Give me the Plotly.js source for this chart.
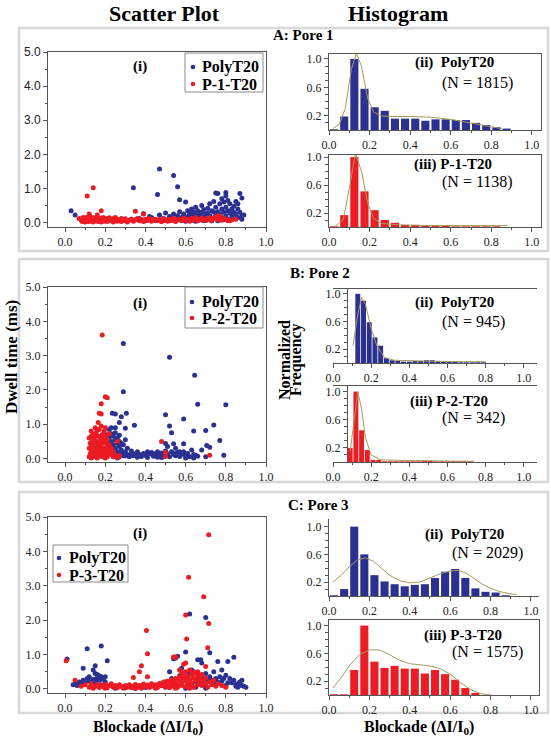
<!DOCTYPE html>
<html><head><meta charset="utf-8">
<script src="https://cdn.plot.ly/plotly-3.0.1.min.js"></script>
<style>html,body{margin:0;padding:0;background:#fff}</style>
</head><body><div id="chart" style="width:551px;height:737px"></div>
<script>
// ---------- DATA ----------
// Scatter A (Pore 1)
var aPolyX=[0.03,0.05,0.09,0.14,0.19,0.24,0.29,0.33,0.34,0.37,0.39,0.41,0.43,0.44,0.46,0.47,0.47,0.49,0.50,0.51,0.52,0.53,0.54,0.54,0.55,0.56,0.56,0.57,0.57,0.58,0.59,0.60,0.60,0.61,0.61,0.62,0.62,0.63,0.63,0.64,0.64,0.65,0.65,0.66,0.66,0.67,0.67,0.68,0.68,0.69,0.69,0.70,0.70,0.71,0.71,0.72,0.72,0.73,0.73,0.74,0.74,0.75,0.75,0.75,0.76,0.76,0.76,0.77,0.77,0.78,0.78,0.78,0.79,0.79,0.80,0.80,0.80,0.80,0.81,0.81,0.81,0.82,0.82,0.83,0.83,0.84,0.84,0.85,0.85,0.86,0.86,0.87,0.87,0.88,0.88,0.89,0.85,0.79,0.73,0.69,0.40,0.42,0.45,0.48,0.50,0.52,0.55,0.58,0.60,0.63,0.65,0.67,0.70,0.72,0.74,0.77,0.80,0.83,0.86,0.88];
var aPolyY=[0.35,0.22,0.12,0.08,0.10,0.06,0.08,0.10,1.02,0.12,0.26,0.08,0.15,0.10,0.82,1.57,0.22,0.12,0.28,0.08,0.18,0.12,1.38,0.25,0.10,1.05,0.20,0.67,0.32,0.15,0.25,0.60,0.10,0.35,0.18,0.28,0.08,0.40,0.20,0.12,0.30,0.45,0.22,0.15,0.35,0.25,0.08,0.30,0.50,0.18,0.38,0.25,0.12,0.42,0.28,0.55,0.20,0.35,0.10,0.30,0.62,0.87,0.45,0.18,0.85,0.32,0.05,0.55,0.25,0.70,0.40,0.15,0.60,0.30,0.88,0.78,0.45,0.20,0.65,0.35,0.10,0.55,0.28,0.40,0.18,0.48,0.30,0.62,0.25,0.40,0.55,0.85,0.30,0.72,0.20,0.22,0.12,0.08,0.05,0.05,0.05,0.18,0.06,0.04,0.06,0.05,0.05,0.06,0.04,0.06,0.04,0.14,0.06,0.08,0.14,0.10,0.10,0.08,0.15,0.10];
var aP1X=[0.11,0.14,0.18,0.35,0.39,0.12,0.16,0.09,0.07,0.82,0.08,0.085,0.09,0.095,0.10,0.10,0.105,0.11,0.115,0.12,0.12,0.125,0.13,0.135,0.14,0.14,0.145,0.15,0.155,0.16,0.16,0.165,0.17,0.175,0.18,0.18,0.185,0.19,0.195,0.20,0.20,0.21,0.21,0.22,0.22,0.23,0.23,0.24,0.24,0.25,0.25,0.26,0.26,0.27,0.28,0.28,0.29,0.30,0.30,0.31,0.32,0.33,0.34,0.35,0.36,0.37,0.38,0.39,0.40,0.41,0.42,0.43,0.44,0.45,0.46,0.47,0.48,0.49,0.50,0.51,0.52,0.53,0.54,0.55,0.56,0.57,0.58,0.59,0.60,0.61,0.62,0.63,0.64,0.65,0.66,0.67,0.68,0.69,0.70,0.71,0.72,0.73,0.74,0.75,0.76,0.77,0.78,0.79,0.80,0.81,0.83,0.85];
var aP1Y=[0.78,1.02,0.35,0.33,0.25,0.25,0.22,0.15,0.12,0.05,0.08,0.03,0.12,0.05,0.02,0.10,0.15,0.06,0.03,0.12,0.07,0.18,0.04,0.10,0.14,0.02,0.08,0.12,0.05,0.16,0.09,0.03,0.11,0.06,0.13,0.02,0.08,0.15,0.04,0.10,0.06,0.12,0.03,0.08,0.14,0.05,0.10,0.02,0.12,0.07,0.15,0.04,0.10,0.06,0.12,0.03,0.08,0.05,0.11,0.02,0.07,0.10,0.04,0.08,0.12,0.05,0.09,0.03,0.10,0.06,0.12,0.04,0.08,0.10,0.05,0.09,0.03,0.11,0.07,0.04,0.10,0.06,0.12,0.03,0.08,0.10,0.05,0.13,0.07,0.10,0.04,0.12,0.08,0.15,0.05,0.10,0.13,0.06,0.11,0.08,0.14,0.05,0.12,0.18,0.09,0.20,0.07,0.12,0.10,0.05,0.08,0.10];
// Scatter B (Pore 2)
var bPolyX=[0.20,0.21,0.21,0.22,0.22,0.23,0.23,0.23,0.24,0.24,0.24,0.25,0.25,0.25,0.26,0.26,0.26,0.27,0.27,0.27,0.28,0.28,0.29,0.29,0.30,0.30,0.31,0.31,0.32,0.33,0.22,0.25,0.27,0.20,0.19,0.21,0.24,0.26,0.28,0.30,
0.33,0.34,0.35,0.36,0.37,0.38,0.39,0.40,0.41,0.42,0.43,0.44,0.45,0.46,0.46,0.47,0.48,0.49,0.50,0.50,0.51,0.52,0.53,0.54,0.55,0.56,0.57,0.58,0.59,0.60,0.61,0.62,0.64,0.66,0.36,0.41,0.44,0.48,0.55,0.60,
0.29,0.52,0.29,0.645,0.66,0.80,0.59,0.50,0.52,0.64,0.70,0.74,0.77,0.705,0.72,0.235,0.25,0.305,0.28,0.345,0.30,0.27,0.23,0.50,0.54,0.59,0.53,0.49,0.63,0.65,0.79,0.70,0.51,0.55,0.57,0.64,0.68];
var bPolyY=[0.55,0.45,0.30,0.62,0.15,0.50,0.72,0.25,0.40,0.65,0.10,0.55,0.30,0.75,0.45,0.20,0.60,0.35,0.05,0.50,0.25,0.15,0.40,0.08,0.20,0.55,0.12,0.30,0.05,0.15,0.85,0.90,0.68,0.70,0.62,0.20,0.05,0.02,0.45,0.08,
0.22,0.08,0.14,0.04,0.12,0.06,0.15,0.09,0.03,0.13,0.18,0.07,0.12,0.20,0.04,0.10,0.16,0.06,0.22,0.10,0.14,0.05,0.20,0.12,0.08,0.18,0.06,0.12,0.20,0.08,0.15,0.05,0.12,0.07,0.20,0.20,0.15,0.03,0.15,0.02,
3.35,2.95,1.95,2.43,1.58,1.57,1.15,1.28,0.95,0.80,0.82,0.98,0.53,0.38,0.33,1.32,1.30,1.32,1.22,0.97,0.88,1.05,0.90,0.44,0.43,0.43,0.75,0.05,0.25,0.10,0.10,0.05,0.35,0.30,0.20,0.02,0.25];
var bP2X=[0.185,0.20,0.21,0.18,0.17,0.18,0.165,0.48,0.50,0.50,0.72,0.26,
0.12,0.12,0.12,0.125,0.125,0.13,0.13,0.13,0.135,0.135,0.14,0.14,0.14,0.145,0.145,0.15,0.15,0.15,0.155,0.155,0.16,0.16,0.16,0.165,0.165,0.17,0.17,0.17,0.175,0.175,0.18,0.18,0.18,0.185,0.185,0.19,0.19,0.195,0.195,0.20,0.20,0.20,0.20,0.205,0.21,0.21,0.215,0.22,0.22,0.225,0.23,0.24,0.24,0.25,0.26,0.27,0.13,0.14,0.15,0.16,0.17,0.18,0.19,0.20,0.21,0.16,0.14,0.13,0.18,0.19,0.22];
var bP2Y=[3.60,1.80,1.77,1.60,1.32,1.30,1.05,0.50,0.18,0.06,0.10,0.50,
0.05,0.30,0.60,0.15,0.45,0.80,0.02,0.25,0.50,0.10,0.70,0.35,0.05,0.20,0.60,0.90,0.40,0.12,0.28,0.75,0.50,0.02,0.18,0.65,0.35,0.85,0.08,0.45,0.25,0.60,0.95,0.15,0.40,0.70,0.05,0.30,0.55,0.20,0.80,0.10,0.45,0.65,0.02,0.30,0.55,0.05,0.20,0.40,0.72,0.12,0.30,0.05,0.20,0.10,0.03,0.08,0.40,0.55,0.65,0.85,0.20,0.52,0.10,0.90,0.35,0.30,0.15,0.65,0.28,0.68,0.18];
// Scatter C (Pore 3)
var cPolyX=[0.01,0.11,0.18,0.09,0.15,0.14,0.21,0.12,0.16,0.17,0.62,0.70,0.72,0.60,0.55,0.56,0.54,0.76,0.81,0.84,0.66,0.675,0.68,0.62,0.63,0.64,0.58,0.59,0.60,0.70,0.72,0.74,0.75,0.77,0.78,0.80,0.82,0.83,0.85,0.87,0.88,0.89,0.90,0.86,0.80,0.78,0.73,0.69,0.67,0.65,0.52,0.50,0.47,0.53,
0.04,0.05,0.06,0.07,0.08,0.09,0.10,0.11,0.12,0.13,0.14,0.15,0.16,0.17,0.18,0.19,0.20,0.20,0.18,0.15,
0.25,0.30,0.35,0.40,0.45,0.50,0.55,0.60,0.65,0.70,0.75,0.80,0.85,0.88,0.60,0.70,
0.57,0.61,0.63,0.66,0.69,0.71,0.74,0.76,0.79,0.81,0.84,0.86];
var cPolyY=[0.87,1.17,1.25,0.60,0.67,0.55,0.82,0.35,0.42,0.38,2.18,2.08,1.05,1.07,0.90,0.95,0.88,0.80,0.80,0.92,0.85,0.85,0.75,0.45,0.55,0.50,0.60,0.45,0.35,0.45,0.35,0.50,0.30,0.35,0.22,0.40,0.30,0.18,0.12,0.20,0.25,0.08,0.05,0.05,0.10,0.55,0.25,0.30,0.40,0.20,0.50,0.20,0.15,0.30,
0.12,0.15,0.10,0.20,0.14,0.25,0.18,0.30,0.22,0.15,0.28,0.20,0.32,0.25,0.35,0.28,0.20,0.35,0.12,0.45,
0.02,0.03,0.01,0.04,0.03,0.05,0.04,0.06,0.05,0.08,0.10,0.06,0.08,0.10,0.02,0.02,
0.38,0.28,0.15,0.30,0.18,0.22,0.15,0.20,0.30,0.18,0.25,0.15];
var cP3X=[0.715,0.615,0.69,0.60,0.715,0.405,0.605,0.71,0.41,0.54,0.38,0.37,0.41,0.34,0.005,0.05,0.60,0.59,0.57,0.70,0.55,
0.08,0.10,0.12,0.13,0.15,0.16,0.17,0.18,0.19,0.20,0.21,0.22,0.23,0.24,0.25,0.26,0.27,0.28,0.29,0.30,0.31,0.32,0.33,0.34,0.35,0.36,0.37,0.38,0.39,0.40,0.41,0.42,0.43,0.44,0.45,0.46,0.47,0.48,0.49,0.50,0.50,0.51,0.52,0.52,0.53,0.53,0.54,0.54,0.55,0.55,0.56,0.56,0.57,0.57,0.58,0.58,0.59,0.59,0.60,0.60,0.61,0.61,0.62,0.62,0.63,0.63,0.64,0.64,0.65,0.65,0.66,0.66,0.67,0.67,0.68,0.68,0.69,0.70,0.70,0.71,0.72,0.73,0.74,0.75,0.76,0.78,0.80,0.14,0.20,0.35,0.45,0.55,0.62,0.58,0.60,0.62,0.64,0.66];
var cP3Y=[4.48,3.25,2.68,2.15,1.90,1.70,1.45,1.20,1.02,0.93,0.67,0.50,0.35,0.33,0.82,0.25,0.75,0.72,0.55,0.65,0.93,
0.08,0.12,0.05,0.15,0.08,0.13,0.04,0.10,0.06,0.13,0.03,0.09,0.15,0.05,0.10,0.03,0.12,0.07,0.02,0.10,0.05,0.12,0.03,0.08,0.13,0.05,0.10,0.02,0.14,0.07,0.11,0.04,0.15,0.08,0.12,0.04,0.16,0.09,0.20,0.06,0.14,0.22,0.10,0.03,0.18,0.26,0.08,0.14,0.30,0.20,0.05,0.12,0.25,0.35,0.10,0.18,0.30,0.40,0.06,0.22,0.15,0.35,0.28,0.08,0.42,0.18,0.32,0.05,0.25,0.45,0.12,0.38,0.20,0.30,0.10,0.42,0.25,0.15,0.32,0.05,0.20,0.12,0.25,0.08,0.15,0.10,0.05,0.02,0.02,0.02,0.02,0.02,0.02,0.48,0.50,0.55,0.48,0.50];

// Histograms: bin centres and normalized frequencies
var binsAC=[0.025,0.075,0.125,0.175,0.225,0.275,0.325,0.375,0.425,0.475,0.525,0.575,0.625,0.675,0.725,0.775,0.825,0.875];
var hA_poly=[0.01,0.19,1.00,0.58,0.32,0.27,0.16,0.16,0.16,0.13,0.15,0.15,0.14,0.14,0.10,0.07,0.04,0.02];
var hA_p1  =[0.01,0.17,1.00,0.51,0.24,0.10,0.06,0.03,0.03,0.02,0.02,0.02,0.01,0.01,0.01,0.01,0.01];
var binsBpoly=[0.13,0.16,0.19,0.22,0.25,0.28,0.31,0.34,0.37,0.40,0.43,0.46,0.49,0.52,0.55,0.58,0.61,0.64,0.67,0.70,0.73,0.76,0.79];
var hB_poly=[1.00,0.90,0.59,0.37,0.25,0.07,0.04,0.03,0.02,0.02,0.03,0.03,0.04,0.04,0.03,0.02,0.02,0.02,0.01,0.01,0.01,0.01,0.01];
var binsBp2=[0.09,0.12,0.15,0.18,0.21,0.24,0.27,0.30,0.33,0.36,0.39,0.42,0.45,0.48,0.51,0.54,0.57,0.60,0.63,0.66,0.69,0.72];
var hB_p2=[0.20,1.00,0.45,0.17,0.03,0.03,0.01,0.01,0.01,0.01,0.01,0.01,0.01,0.02,0.02,0.01,0.01,0.01,0.01,0.01,0.01,0.01];
var hC_poly=[0.01,0.10,1.00,0.60,0.30,0.21,0.17,0.14,0.16,0.17,0.26,0.35,0.39,0.26,0.11,0.06,0.05,0.01];
var hC_p3  =[0.01,0.01,0.36,1.00,0.48,0.39,0.42,0.38,0.38,0.31,0.36,0.30,0.22,0.10,0.03];

// Fitted curves
var fitA_polyX=[0.02,0.05,0.08,0.11,0.135,0.16,0.19,0.22,0.26,0.30,0.40,0.50,0.60,0.70,0.80,0.85];
var fitA_polyY=[0.02,0.08,0.30,0.85,1.08,0.90,0.45,0.25,0.20,0.19,0.19,0.18,0.15,0.10,0.05,0.02];
var fitA_p1X=[0.03,0.07,0.10,0.13,0.16,0.19,0.22,0.26,0.35,0.50,0.70,0.88];
var fitA_p1Y=[0.01,0.10,0.55,1.05,0.80,0.35,0.12,0.05,0.03,0.02,0.02,0.02];
var fitB_polyX=[0.105,0.13,0.15,0.17,0.20,0.23,0.27,0.32,0.45,0.60,0.80];
var fitB_polyY=[0.25,0.70,0.95,0.85,0.50,0.25,0.08,0.04,0.03,0.02,0.02];
var fitB_p2X=[0.09,0.11,0.13,0.15,0.17,0.20,0.25,0.40,0.60,0.74];
var fitB_p2Y=[0.15,0.60,1.00,0.75,0.35,0.10,0.03,0.02,0.02,0.01];
var fitC_polyX=[0.02,0.06,0.10,0.14,0.18,0.22,0.26,0.30,0.35,0.40,0.45,0.50,0.55,0.60,0.64,0.68,0.72,0.76,0.80,0.85,0.90,0.93];
var fitC_polyY=[0.20,0.30,0.42,0.52,0.55,0.50,0.40,0.30,0.22,0.19,0.20,0.26,0.32,0.36,0.37,0.33,0.25,0.17,0.11,0.06,0.03,0.02];
var fitC_p3X=[0.02,0.06,0.10,0.15,0.20,0.25,0.30,0.35,0.40,0.45,0.50,0.55,0.60,0.65,0.70,0.75,0.80];
var fitC_p3Y=[0.10,0.25,0.42,0.58,0.65,0.65,0.58,0.50,0.45,0.43,0.42,0.38,0.30,0.18,0.08,0.02,0.00];

// ---------- LAYOUT HELPERS ----------
var W=551,H=737;
function fx(p){return p/W;}
function fy(p){return 1-p/H;}
var BLUE='#2b3190', RED='#ec1c24', FIT='#a89a5c', AX='#555';
var SERIF='Liberation Serif, Times New Roman, serif';
var SANS='Liberation Sans, Arial, sans-serif';
function tf(fam){return {family:fam,size:12,color:'#222'};}

function scatX(anchor){
  return {domain:[fx(48),fx(266)],range:[-0.085,1.0],dtick:0.2,tick0:0,tickformat:'.1f',
    ticks:'outside',ticklen:4,tickcolor:AX,minor:{dtick:0.1,ticklen:2,ticks:'outside',tickcolor:AX},
    showline:true,linecolor:AX,linewidth:1,mirror:true,showgrid:false,zeroline:false,
    tickfont:tf(SERIF),anchor:anchor};
}
function scatY(top,bot,lo,anchor,fam){
  return {domain:[fy(bot),fy(top)],range:[lo,5.0],dtick:1,tick0:0,tickformat:'.1f',
    ticks:'outside',ticklen:4,tickcolor:AX,minor:{dtick:0.5,ticklen:2,ticks:'outside',tickcolor:AX},
    showline:true,linecolor:AX,linewidth:1,mirror:true,showgrid:false,zeroline:false,
    tickfont:tf(fam),anchor:anchor};
}
function histX(l,r,hi,anchor,mirror){
  return {domain:[fx(l),fx(r)],range:[0,hi],dtick:0.2,tick0:0,tickformat:'.1f',
    ticks:'outside',ticklen:4,tickcolor:AX,minor:{dtick:0.1,ticklen:2,ticks:'outside',tickcolor:AX},
    showline:true,linecolor:AX,linewidth:1,mirror:mirror,showgrid:false,zeroline:false,
    tickfont:tf(SERIF),anchor:anchor};
}
function histY(top,bot,hi,anchor,mirror){
  return {domain:[fy(bot),fy(top)],range:[0,hi],tickvals:[0.2,0.6,1.0],tickformat:'.1f',
    ticks:'outside',ticklen:4,tickcolor:AX,minor:{tickvals:[0.1,0.3,0.4,0.5,0.7,0.8,0.9],ticklen:3,ticks:'outside',tickcolor:AX},
    showline:true,linecolor:AX,linewidth:1,mirror:mirror,showgrid:false,zeroline:false,
    tickfont:tf(SERIF),anchor:anchor};
}

var traces=[];
function scat(x,y,color,xa,ya){
  traces.push({type:'scatter',mode:'markers',x:x,y:y,xaxis:xa,yaxis:ya,
    marker:{color:color,size:5},showlegend:false,cliponaxis:true});
}
function bars(x,y,w,color,xa,ya){
  traces.push({type:'bar',x:x,y:y,width:w,xaxis:xa,yaxis:ya,marker:{color:color,line:{width:0}},showlegend:false});
}
function fit(x,y,xa,ya){
  traces.push({type:'scatter',mode:'lines',x:x,y:y,xaxis:xa,yaxis:ya,line:{color:FIT,width:1},showlegend:false});
}

scat(aPolyX,aPolyY,BLUE,'x','y');
scat(aP1X,aP1Y,RED,'x','y');
scat(bPolyX,bPolyY,BLUE,'x4','y4');
scat(bP2X,bP2Y,RED,'x4','y4');
scat(cPolyX,cPolyY,BLUE,'x7','y7');
scat(cP3X,cP3Y,RED,'x7','y7');

bars(binsAC,hA_poly,0.04,BLUE,'x2','y2'); fit(fitA_polyX,fitA_polyY,'x2','y2');
bars(binsAC.slice(0,hA_p1.length),hA_p1,0.04,RED,'x3','y3'); fit(fitA_p1X,fitA_p1Y,'x3','y3');
bars(binsBpoly,hB_poly,0.026,BLUE,'x5','y5'); fit(fitB_polyX,fitB_polyY,'x5','y5');
bars(binsBp2,hB_p2,0.026,RED,'x6','y6'); fit(fitB_p2X,fitB_p2Y,'x6','y6');
bars(binsAC,hC_poly,0.04,BLUE,'x8','y8'); fit(fitC_polyX,fitC_polyY,'x8','y8');
bars(binsAC.slice(0,hC_p3.length),hC_p3,0.04,RED,'x9','y9'); fit(fitC_p3X,fitC_p3Y,'x9','y9');

function ann(text,x,y,size,opt){
  var a={text:text,x:fx(x),y:fy(y),xref:'paper',yref:'paper',showarrow:false,xanchor:'center',yanchor:'middle',
    font:{family:SERIF,size:size,color:'#000'}};
  if(opt){for(var k in opt){a[k]=opt[k];}}
  return a;
}
var annotations=[
  ann('<b>Scatter Plot</b>',164,13,22),
  ann('<b>Histogram</b>',398,13,22),
  ann('<b>A: Pore 1</b>',303,35,15),
  ann('<b>B: Pore 2</b>',320,273,15),
  ann('<b>C: Pore 3</b>',318,505,15),
  ann('<b>(i)</b>',140,66,15),
  ann('<b>(i)</b>',140,303,15),
  ann('<b>(i)</b>',140,533,15),
  ann('<b>(ii)&nbsp;&nbsp;PolyT20</b>',413,63,15,{xanchor:'left'}),
  ann('(N = 1815)',440,83,16,{xanchor:'left'}),
  ann('<b>(iii) P-1-T20</b>',412,165,15,{xanchor:'left'}),
  ann('(N = 1138)',440,182,16,{xanchor:'left'}),
  ann('<b>(ii)&nbsp;&nbsp;PolyT20</b>',413,302,15,{xanchor:'left'}),
  ann('(N = 945)',440,322,16,{xanchor:'left'}),
  ann('<b>(iii) P-2-T20</b>',408,402,15,{xanchor:'left'}),
  ann('(N = 342)',440,418,16,{xanchor:'left'}),
  ann('<b>(ii)&nbsp;&nbsp;PolyT20</b>',423,534,15,{xanchor:'left'}),
  ann('(N = 2029)',450,553,16,{xanchor:'left'}),
  ann('<b>(iii) P-3-T20</b>',422,635,15,{xanchor:'left'}),
  ann('(N = 1575)',450,652,16,{xanchor:'left'}),
  ann('<b>Dwell time (ms)</b>',11,357,17,{textangle:-90}),
  ann('<b>Normalized</b>',284,360,16,{textangle:-90}),
  ann('<b>Frequency</b>',296,360,16,{textangle:-90}),
  ann('<b>Blockade (ΔI/I<sub>0</sub>)</b>',148,727,16),
  ann('<b>Blockade (ΔI/I<sub>0</sub>)</b>',419,727,16)
];
function frame(t,b){
  return {type:'rect',xref:'paper',yref:'paper',x0:fx(19),x1:fx(548),y0:fy(b),y1:fy(t),
    line:{color:'#d8d8d8',width:2.5},fillcolor:'rgba(0,0,0,0)',layer:'below'};
}
var shapes=[frame(28,251),frame(259,482),frame(492,713)];

// legend boxes (drawn as paper shapes + text)
function legendBox(l,t,r,b,dotX,y1,y2,name1,name2,textX){
  shapes.push({type:'rect',xref:'paper',yref:'paper',x0:fx(l),x1:fx(r),y0:fy(b),y1:fy(t),
    line:{color:'#8a8a8a',width:1},fillcolor:'#fff',layer:'above'});
  [[y1,BLUE],[y2,RED]].forEach(function(d){
    shapes.push({type:'circle',xref:'paper',yref:'paper',x0:fx(dotX-2.3),x1:fx(dotX+2.3),y0:fy(d[0]+2.3),y1:fy(d[0]-2.3),
      line:{width:0},fillcolor:d[1],layer:'above'});
  });
  annotations.push(ann('<b>'+name1+'</b>',textX,y1,16,{xanchor:'left'}));
  annotations.push(ann('<b>'+name2+'</b>',textX,y2,16,{xanchor:'left'}));
}
legendBox(185,53,263,92,193,67,84,'PolyT20','P-1-T20',200);
legendBox(185,287,263,328,192,302,318,'PolyT20','P-2-T20',200);
legendBox(53,545,128,582,59,558,575,'PolyT20','P-3-T20',67);

var bY5=histY(289,363,1.07,'free',true); bY5.position=fx(347);
var bY6=histY(386,462,1.08,'free',true); bY6.position=fx(347);

var layout={
  width:W,height:H,margin:{l:0,r:0,t:0,b:0},paper_bgcolor:'#fff',plot_bgcolor:'#fff',
  showlegend:false,
  xaxis:scatX('y'), yaxis:scatY(52,227,-0.13,'x',SANS),
  xaxis2:histX(329,541,1.045,'y2',true), yaxis2:histY(54,130,1.07,'x2',true),
  xaxis3:histX(329,541,1.045,'y3',true), yaxis3:histY(155,227,1.03,'x3',true),
  xaxis4:scatX('y4'), yaxis4:scatY(287,462,-0.1,'x4',SERIF),
  xaxis5:histX(333,537,1.07,'y5',true), yaxis5:bY5,
  xaxis6:histX(333,537,1.07,'y6',true), yaxis6:bY6,
  xaxis7:scatX('y7'), yaxis7:scatY(517,693,-0.12,'x7',SERIF),
  xaxis8:histX(329,539,1.04,'y8',false), yaxis8:histY(519,596,1.11,'x8',false),
  xaxis9:histX(329,539,1.04,'y9',true), yaxis9:histY(620,695,1.08,'x9',true),
  annotations:annotations,
  shapes:shapes
};
Plotly.newPlot('chart',traces,layout,{displayModeBar:false,staticPlot:true});
</script>
</body></html>
